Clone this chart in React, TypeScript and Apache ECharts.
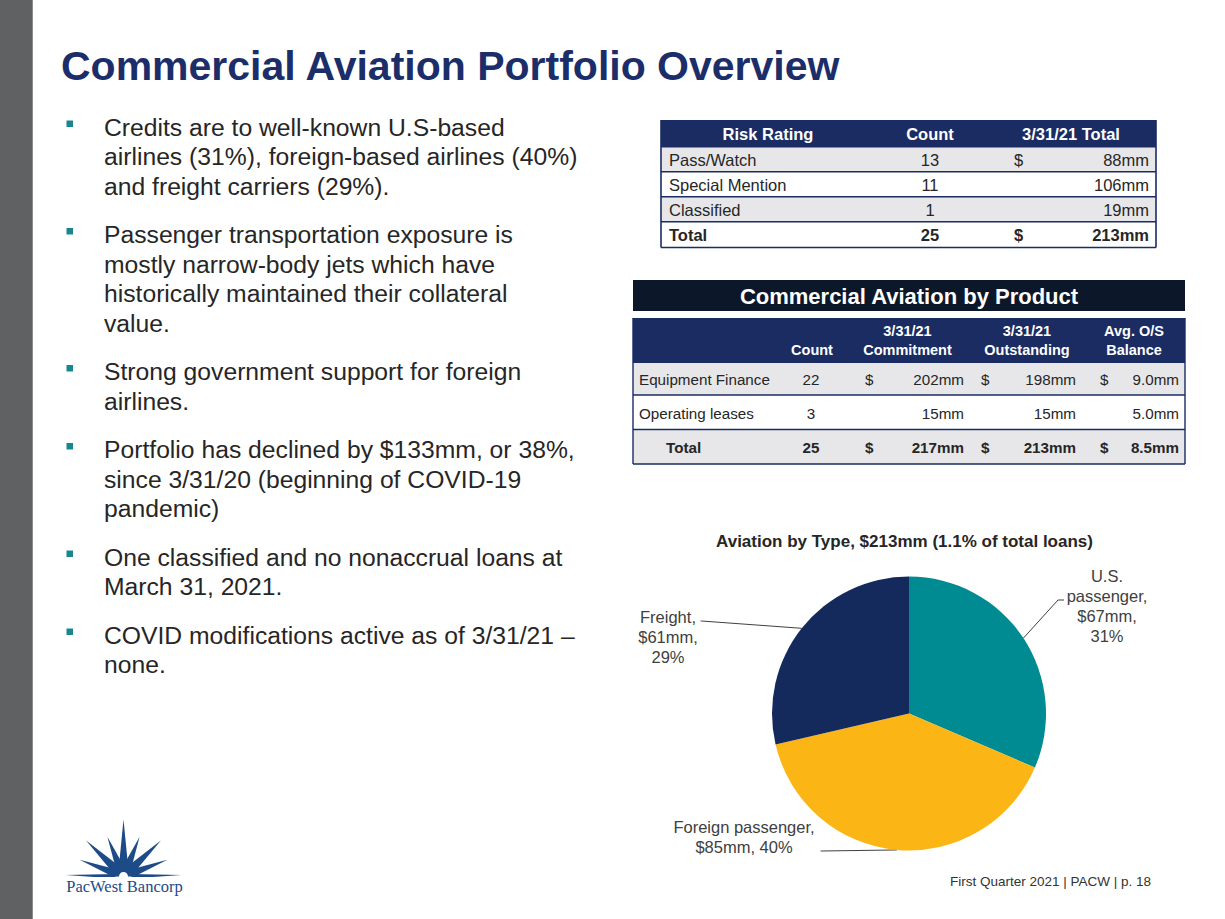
import React, { useEffect, useRef } from 'react';
import * as echarts from 'echarts';

// ---------------- data ----------------
const slideTitle = 'Commercial Aviation Portfolio Overview';

const bulletParagraphs: string[][] = [
  ['Credits are to well-known U.S-based', 'airlines (31%), foreign-based airlines (40%)', 'and freight carriers (29%).'],
  ['Passenger transportation exposure is', 'mostly narrow-body jets which have', 'historically maintained their collateral', 'value.'],
  ['Strong government support for foreign', 'airlines.'],
  ['Portfolio has declined by $133mm, or 38%,', 'since 3/31/20 (beginning of COVID-19', 'pandemic)'],
  ['One classified and no nonaccrual loans at', 'March 31, 2021.'],
  ['COVID modifications active as of 3/31/21 –', 'none.'],
];

const riskHeaders = ['Risk Rating', 'Count', '3/31/21 Total'];
const riskRatings = ['Pass/Watch', 'Special Mention', 'Classified', 'Total'];
const riskCounts = [13, 11, 1, 25];
const riskTotals = [88, 106, 19, 213];
const riskShowDollar = [true, false, false, true];

const productTitle = 'Commercial Aviation by Product';
const productHeaderTop = ['', '3/31/21', '3/31/21', 'Avg. O/S'];
const productHeaderBottom = ['Count', 'Commitment', 'Outstanding', 'Balance'];
const productNames = ['Equipment Finance', 'Operating leases', 'Total'];
const productCounts = [22, 3, 25];
const productCommitments = [202, 15, 217];
const productOutstanding = [198, 15, 213];
const productAvgBalances = [9.0, 5.0, 8.5];
const productShowDollar = [true, false, true];

const pieTitle = 'Aviation by Type, $213mm (1.1% of total loans)';
const typeNames = ['U.S. passenger', 'Foreign passenger', 'Freight'];
const typeLabelNames = ['U.S.\npassenger,', 'Foreign passenger,', 'Freight,'];
const typeLabelSeparators = ['\n', ' ', '\n'];
const typeValues = [67, 85, 61];
const typePercents = [31, 40, 29];

const footerText = 'First Quarter 2021 | PACW | p. 18';
const logoText = 'PacWest Bancorp';

// ---------------- styles / layout ----------------
const FONT = '"Liberation Sans", Arial, Helvetica, sans-serif';
const NAVY = '#1a2c62';
const TITLE_NAVY = '#1b2e6a';
const TEXT = '#262626';
const GRAY_ROW = '#e7e7ea';
const TEAL = '#16878f';
const typeColors = ['#008b93', '#fbb616', '#142a5c'];
const LOGO_BLUE = '#1d4b88';

function txt(text: string, x: number, y: number, o: any = {}) {
  const align = o.align || 'left';
  const va = o.verticalAlign || 'middle';
  return {
    type: 'text',
    silent: true,
    z: o.z || 10,
    style: {
      text,
      x,
      y,
      fill: o.fill || TEXT,
      fontSize: o.fontSize || 16,
      fontWeight: o.fontWeight || 'normal',
      fontFamily: o.fontFamily || FONT,
      align,
      verticalAlign: va,
      textAlign: align,
      textVerticalAlign: va,
    },
  };
}
function rect(x: number, y: number, w: number, h: number, fill: string, z = 1) {
  return { type: 'rect', silent: true, z, shape: { x, y, width: w, height: h }, style: { fill } };
}
function hline(x1: number, x2: number, y: number, stroke: string, lw: number, z = 5) {
  return { type: 'line', silent: true, z, shape: { x1, y1: y, x2, y2: y }, style: { stroke, lineWidth: lw } };
}
function vline(x: number, y1: number, y2: number, stroke: string, lw: number, z = 5) {
  return { type: 'line', silent: true, z, shape: { x1: x, y1, x2: x, y2 }, style: { stroke, lineWidth: lw } };
}

function buildGraphics() {
  const g: any[] = [];
  // left bar
  g.push(rect(0, 0, 32, 919, '#606163'));
  g.push(vline(32.5, 0, 919, '#8c8c8c', 1));
  // title
  g.push(txt(slideTitle, 61, 66, { fontSize: 41, fontWeight: 'bold', fill: TITLE_NAVY }));

  // bullets
  let y = 127;
  bulletParagraphs.forEach((lines, pi) => {
    if (pi > 0) y += 48.5;
    g.push(rect(66.5, y - 6.5, 6.5, 6.5, TEAL, 5));
    lines.forEach((line, li) => {
      if (li > 0) y += 29.5;
      g.push(txt(line, 104, y, { fontSize: 24.7 }));
    });
  });

  // ---------- risk table ----------
  const t1x0 = 661, t1x1 = 1156;
  const t1rows = [120, 146.7, 171.7, 196.7, 221.7, 247.5];
  const fs1 = 16.5;
  g.push(rect(t1x0, t1rows[0], t1x1 - t1x0, t1rows[1] - t1rows[0], NAVY));
  for (let r = 0; r < riskRatings.length; r++) {
    const top = t1rows[r + 1], bot = t1rows[r + 2];
    g.push(rect(t1x0, top, t1x1 - t1x0, bot - top, r % 2 === 0 ? GRAY_ROW : '#ffffff'));
    g.push(hline(t1x0, t1x1, top, NAVY, 1.6));
  }
  g.push(hline(t1x0, t1x1, t1rows[5], NAVY, 1.6));
  g.push(vline(t1x0, t1rows[0], t1rows[5], NAVY, 1.6));
  g.push(vline(t1x1, t1rows[0], t1rows[5], NAVY, 1.6));
  const t1HeaderCx = [768, 930, 1071];
  riskHeaders.forEach((h, i) =>
    g.push(txt(h, t1HeaderCx[i], 134, { align: 'center', fontSize: fs1, fontWeight: 'bold', fill: '#ffffff' }))
  );
  riskRatings.forEach((name, r) => {
    const cy = (t1rows[r + 1] + t1rows[r + 2]) / 2 + 0.5;
    const bold = r === riskRatings.length - 1 ? 'bold' : 'normal';
    g.push(txt(name, 669, cy, { fontSize: fs1, fontWeight: bold }));
    g.push(txt(String(riskCounts[r]), 930, cy, { fontSize: fs1, fontWeight: bold, align: 'center' }));
    if (riskShowDollar[r]) g.push(txt('$', 1014, cy, { fontSize: fs1, fontWeight: bold }));
    g.push(txt(riskTotals[r] + 'mm', 1149, cy, { fontSize: fs1, fontWeight: bold, align: 'right' }));
  });

  // ---------- product table ----------
  const t2x0 = 633, t2x1 = 1185;
  g.push(rect(t2x0, 280, t2x1 - t2x0, 31, '#0c1829'));
  g.push(txt(productTitle, (t2x0 + t2x1) / 2, 296, { align: 'center', fontSize: 22, fontWeight: 'bold', fill: '#ffffff' }));
  const t2rows = [318, 362.3, 395, 429.5, 464];
  g.push(rect(t2x0, t2rows[0], t2x1 - t2x0, t2rows[1] - t2rows[0], NAVY));
  for (let r = 0; r < productNames.length; r++) {
    const top = t2rows[r + 1], bot = t2rows[r + 2];
    g.push(rect(t2x0, top, t2x1 - t2x0, bot - top, r % 2 === 0 ? GRAY_ROW : '#ffffff'));
    g.push(hline(t2x0, t2x1, top, NAVY, 1.4));
  }
  g.push(hline(t2x0, t2x1, t2rows[4], NAVY, 1.4));
  g.push(vline(t2x0, t2rows[0], t2rows[4], NAVY, 1.4));
  g.push(vline(t2x1, t2rows[0], t2rows[4], NAVY, 1.4));
  const t2HeaderCx = [812, 907.5, 1027, 1134];
  productHeaderTop.forEach((h, i) => {
    if (h) g.push(txt(h, t2HeaderCx[i], 331, { align: 'center', fontSize: 14.5, fontWeight: 'bold', fill: '#ffffff' }));
    g.push(txt(productHeaderBottom[i], t2HeaderCx[i], 350, { align: 'center', fontSize: 14.5, fontWeight: 'bold', fill: '#ffffff' }));
  });
  const dollarX = [865, 981, 1100];
  const valueRight = [964, 1076, 1179];
  productNames.forEach((name, r) => {
    const cy = (t2rows[r + 1] + t2rows[r + 2]) / 2 + 1;
    const isTotal = r === productNames.length - 1;
    const bold = isTotal ? 'bold' : 'normal';
    const fs = 15.2;
    g.push(txt(name, isTotal ? 666 : 639, cy, { fontSize: fs, fontWeight: bold }));
    g.push(txt(String(productCounts[r]), 811, cy, { fontSize: fs, fontWeight: bold, align: 'center' }));
    const vals = [productCommitments[r] + 'mm', productOutstanding[r] + 'mm', productAvgBalances[r].toFixed(1) + 'mm'];
    vals.forEach((v, c) => {
      if (productShowDollar[r]) g.push(txt('$', dollarX[c], cy, { fontSize: fs, fontWeight: bold }));
      g.push(txt(v, valueRight[c], cy, { fontSize: fs, fontWeight: bold, align: 'right' }));
    });
  });

  // pie title
  g.push(txt(pieTitle, 904.5, 541, { align: 'center', fontSize: 17, fontWeight: 'bold' }));

  // footer
  g.push(txt(footerText, 1151, 881, { align: 'right', fontSize: 13.5, fill: '#333333' }));

  // ---------- logo ----------
  const lcx = 123.5, lcy = 876.5;
  const rays = [
    [1.5, 58, 2.2], [21, 47, 4.2], [44, 52, 4.8], [68, 43, 4.4], [90, 57, 4.8], [112, 43, 4.4],
    [136, 52, 4.8], [159, 47, 4.2], [178.5, 58, 2.2],
  ];
  rays.forEach(([deg, len, hw]) => {
    const a = (deg * Math.PI) / 180;
    const dx = Math.cos(a), dy = -Math.sin(a);
    const px = -dy, py = dx;
    const r0 = 8;
    const bx = lcx + dx * r0, by = lcy + dy * r0;
    g.push({
      type: 'polygon', silent: true, z: 6,
      shape: { points: [[bx + px * hw, by + py * hw], [lcx + dx * len, lcy + dy * len], [bx - px * hw, by - py * hw]] },
      style: { fill: LOGO_BLUE },
    });
  });
  g.push({
    type: 'sector', silent: true, z: 6,
    shape: { cx: lcx, cy: lcy, r0: 4.5, r: 11, startAngle: Math.PI, endAngle: Math.PI * 2, clockwise: true },
    style: { fill: LOGO_BLUE },
  });
  g.push(rect(lcx - 70, lcy + 0.5, 140, 4, '#ffffff', 7));
  g.push(txt(logoText, 124.5, 886, { align: 'center', fontSize: 16.5, fill: LOGO_BLUE, fontFamily: '"Liberation Serif", "Times New Roman", serif' }));

  return g;
}

// label anchors and leader line end points (layout)
const labelAnchors = [[1107, 606], [744, 836.5], [668, 636.5]];
const labelLineEnds = [
  [[1058, 600], [1064, 600]],
  [[821.5, 851], [820.5, 851]],
  [[701.5, 621], [700.5, 621]],
];

export default function App() {
  const ref = useRef<HTMLDivElement>(null);
  useEffect(() => {
    if (!ref.current) return;
    const chart = echarts.init(ref.current, undefined, { renderer: 'svg' });
    const pieCx = 909, pieCy = 713.5, pieR = 137;
    const total = typeValues.reduce((a, b) => a + b, 0);
    chart.setOption({
      animation: false,
      backgroundColor: '#ffffff',
      graphic: { elements: buildGraphics() },
      series: [
        {
          type: 'pie',
          center: [pieCx, pieCy],
          radius: [0, pieR],
          startAngle: 90,
          clockwise: true,
          avoidLabelOverlap: false,
          silent: true,
          itemStyle: { borderWidth: 0 },
          data: typeNames.map((n, i) => ({ name: n, value: typeValues[i], itemStyle: { color: typeColors[i] } })),
          label: {
            show: true,
            position: 'outside',
            color: '#404040',
            fontSize: 16.5,
            lineHeight: 20,
            fontFamily: FONT,
            align: 'center',
            formatter: (p: any) =>
              `${typeLabelNames[p.dataIndex]}\n$${typeValues[p.dataIndex]}mm,${typeLabelSeparators[p.dataIndex]}${typePercents[p.dataIndex]}%`,
          },
          labelLine: { show: true, length: 10, length2: 10, smooth: false, lineStyle: { color: '#404040', width: 1 } },
          labelLayout: (params: any) => {
            const i = params.dataIndex;
            let start = params.labelLinePoints && params.labelLinePoints[0];
            if (!start) {
              let before = 0;
              for (let k = 0; k < i; k++) before += typeValues[k];
              const mid = ((before + typeValues[i] / 2) / total) * Math.PI * 2;
              start = [pieCx + pieR * Math.sin(mid), pieCy - pieR * Math.cos(mid)];
            }
            return {
              x: labelAnchors[i][0],
              y: labelAnchors[i][1],
              align: 'center',
              verticalAlign: 'middle',
              labelLinePoints: [start, labelLineEnds[i][0], labelLineEnds[i][1]],
            };
          },
        },
      ],
    });
    return () => chart.dispose();
  }, []);
  return <div ref={ref} style={{ position: 'fixed', left: 0, top: 0, width: 1225, height: 919, background: '#fff' }} />;
}
